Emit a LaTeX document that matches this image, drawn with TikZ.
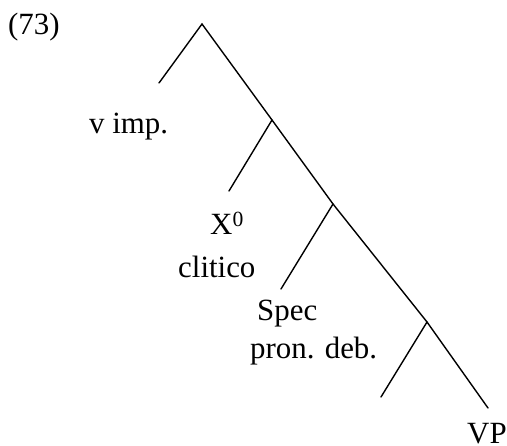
\documentclass[tikz,border=0pt]{standalone}
\usepackage{fontspec}
\setmainfont{Liberation Serif}
\usetikzlibrary{positioning}
\tikzset{
  branch/.style={line width=1.4bp, line cap=round},
  lab/.style={font=\fontsize{31}{35}\selectfont, inner sep=0pt}
}
\begin{document}
\begin{tikzpicture}[x=1bp, y=-1bp]
  \useasboundingbox (0,0) rectangle (507,446);
  % tree points
  \coordinate (top) at (202,24);
  \coordinate (vend) at (159,83);
  \coordinate (n1) at (272,120);
  \coordinate (xend) at (229,191);
  \coordinate (n2) at (333,204);
  \coordinate (send) at (281,289);
  \coordinate (n3) at (427,322);
  \coordinate (lend) at (381,397);
  \coordinate (vpend) at (488,408);
  % branches
  \draw[branch] (vend) -- (top) -- (n1) -- (n2) -- (n3) -- (vpend);
  \draw[branch] (n1) -- (xend);
  \draw[branch] (n2) -- (send);
  \draw[branch] (n3) -- (lend);
  % labels
  \node[lab, anchor=base west] (ex) at (8,35) {(73)};
  \node[lab, anchor=base west] (vimp) at (89,134) {v imp.};
  \node[lab, anchor=base west] (xzero) at (210,235) {X\textsuperscript{0}};
  \node[lab, anchor=base west] (clit) at (178,277) {clitico};
  \node[lab, anchor=base west] (spec) at (257,320) {Spec};
  \node[lab, anchor=base west] (pron) at (250,358) {pron. deb.};
  \node[lab, anchor=base west] (vp) at (467,443) {VP};
\end{tikzpicture}
\end{document}
